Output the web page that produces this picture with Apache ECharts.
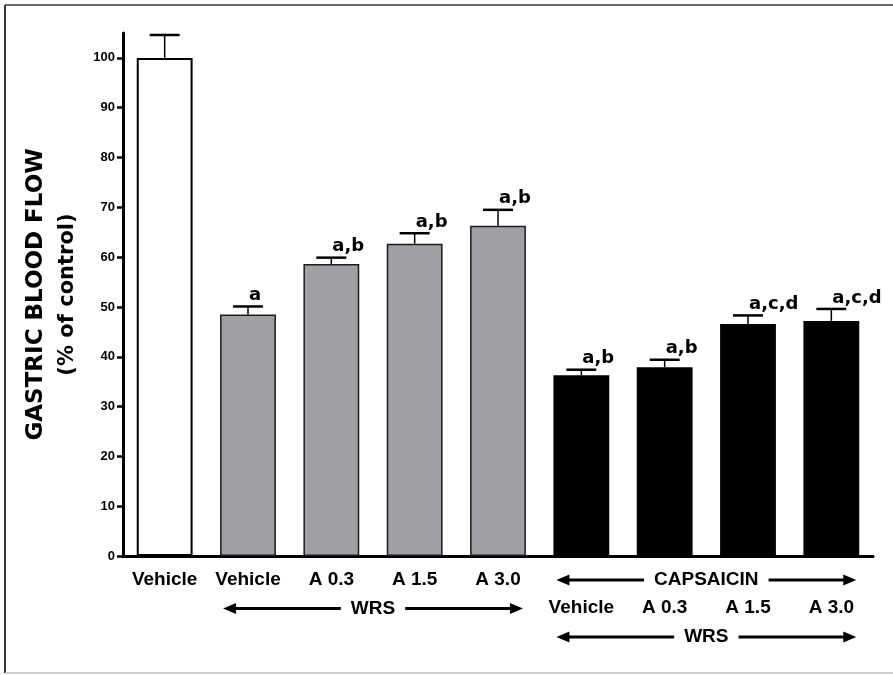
<!DOCTYPE html>
<html>
<head>
<meta charset="utf-8">
<title>Gastric blood flow</title>
<script src="https://cdn.jsdelivr.net/npm/echarts@6/dist/echarts.min.js"></script>
<style>
  html, body { margin: 0; padding: 0; background: #fff; }
  #chart { width: 893px; height: 675px; }
</style>
</head>
<body>
<div id="chart"></div>
<script>
// Treatment groups along the x axis
const categories = ['Vehicle', 'Vehicle', 'A 0.3', 'A 1.5', 'A 3.0', 'Vehicle', 'A 0.3', 'A 1.5', 'A 3.0'];
// Group of each bar: control, WRS alone, WRS after capsaicin
const groups = ['control', 'wrs', 'wrs', 'wrs', 'wrs', 'caps', 'caps', 'caps', 'caps'];
// Gastric blood flow, % of control (mean and SEM)
const means = [100, 48.5, 58.6, 62.7, 66.3, 36.3, 37.9, 46.6, 47.2];
const errors = [4.6, 1.6, 1.3, 2.1, 3.2, 1.1, 1.5, 1.7, 2.4];
// Significance letters over each bar
const sigLabels = ['', 'a', 'a,b', 'a,b', 'a,b', 'a,b', 'a,b', 'a,c,d', 'a,c,d'];
// Y axis tick values
const yTicks = [0, 10, 20, 30, 40, 50, 60, 70, 80, 90, 100];
// Bracketed annotations under the axis: text, first and last bar, row
const bracketText = ['WRS', 'CAPSAICIN', 'WRS'];
const bracketFrom = [1, 5, 5];
const bracketTo = [4, 8, 8];
const bracketRow = [1, 0, 2];

const groupStyle = {
  control: { color: '#ffffff', borderColor: '#000000', borderWidth: 2 },
  wrs: { color: '#a09fa5', borderColor: '#1a1a1a', borderWidth: 1.5 },
  caps: { color: '#000000', borderColor: '#000000', borderWidth: 0 }
};

const labelFont = 'Liberation Sans, Arial, sans-serif';
const letterFont = 'DejaVu Sans, sans-serif';

const chart = echarts.init(document.getElementById('chart'), null, { renderer: 'canvas' });

const option = {
  animation: false,
  backgroundColor: '#ffffff',
  grid: { left: 123, right: 20, top: 33, bottom: 119, containLabel: false },
  xAxis: {
    type: 'category',
    data: categories,
    axisLine: { show: true, lineStyle: { color: '#000', width: 3 } },
    axisTick: { show: false },
    axisLabel: {
      interval: 0,
      margin: 10,
      color: '#000',
      fontFamily: labelFont,
      fontWeight: 'bold',
      fontSize: 19,
      lineHeight: 28,
      formatter: function (value, index) {
        return groups[index] === 'caps' ? '\n' + categories[index] : categories[index];
      }
    },
    splitLine: { show: false }
  },
  yAxis: {
    type: 'value',
    min: 0,
    max: 105,
    axisLine: { show: true, lineStyle: { color: '#000', width: 3 } },
    axisTick: { show: true, length: 6, lineStyle: { color: '#000', width: 2.5 }, customValues: yTicks },
    axisLabel: {
      margin: 8,
      color: '#000',
      fontFamily: labelFont,
      fontWeight: 'bold',
      fontSize: 13,
      customValues: yTicks
    },
    splitLine: { show: false },
    name: '{t|GASTRIC BLOOD FLOW}\n{s|(% of control)}',
    nameLocation: 'middle',
    nameRotate: 90,
    nameGap: 40,
    nameTextStyle: {
      color: '#000',
      rich: {
        t: { fontFamily: letterFont, fontWeight: 'bold', fontSize: 23, lineHeight: 31, color: '#000' },
        s: { fontFamily: letterFont, fontWeight: 'bold', fontSize: 21, lineHeight: 31, color: '#000' }
      }
    }
  },
  series: [
    {
      type: 'bar',
      barWidth: '67%',
      data: means.map(function (v, i) {
        return { value: v, itemStyle: groupStyle[groups[i]] };
      }),
      z: 2
    },
    {
      type: 'custom',
      z: 3,
      data: means.map(function (v, i) { return [i, v, errors[i]]; }),
      encode: { x: 0, y: 1 },
      renderItem: function (params, api) {
        const i = api.value(0);
        const m = api.value(1);
        const e = api.value(2);
        const top = api.coord([i, m]);
        const cap = api.coord([i, m + e]);
        const half = 15;
        return {
          type: 'group',
          children: [
            { type: 'line', shape: { x1: top[0], y1: top[1], x2: cap[0], y2: cap[1] },
              style: { stroke: '#000', lineWidth: 1.5 } },
            { type: 'line', shape: { x1: cap[0] - half, y1: cap[1], x2: cap[0] + half, y2: cap[1] },
              style: { stroke: '#000', lineWidth: 2.5 } },
            { type: 'text', x: cap[0] + 1, y: cap[1] - 2,
              style: { text: sigLabels[params.dataIndex], align: 'left', verticalAlign: 'bottom',
                       font: 'bold 18px ' + letterFont, fill: '#000' } }
          ]
        };
      }
    }
  ]
};

chart.setOption(option);

// Arrows and group names below the category labels
function drawBrackets() {
  const ctx = document.createElement('canvas').getContext('2d');
  const bracketFontSize = 19;
  ctx.font = 'bold ' + bracketFontSize + 'px ' + labelFont;
  const p0 = chart.convertToPixel({ xAxisIndex: 0, yAxisIndex: 0 }, [0, 0]);
  const p1 = chart.convertToPixel({ xAxisIndex: 0, yAxisIndex: 0 }, [1, 0]);
  const band = p1[0] - p0[0];
  const barHalf = band * 0.67 / 2;
  const elements = [];
  const headLen = 13, headHalf = 5.5, gap = 10;

  for (let k = 0; k < bracketText.length; k++) {
    const a = chart.convertToPixel({ xAxisIndex: 0, yAxisIndex: 0 }, [bracketFrom[k], 0]);
    const b = chart.convertToPixel({ xAxisIndex: 0, yAxisIndex: 0 }, [bracketTo[k], 0]);
    const y = p0[1] + 24 + bracketRow[k] * 28.5;
    const xL = a[0] - barHalf + 3;
    const xR = b[0] + barHalf - 3;
    const cx = (a[0] + b[0]) / 2;
    const tw = ctx.measureText(bracketText[k]).width;
    const tL = cx - tw / 2 - gap;
    const tR = cx + tw / 2 + gap;
    elements.push(
      { type: 'line', shape: { x1: xL + headLen - 1, y1: y, x2: tL, y2: y }, style: { stroke: '#000', lineWidth: 3 } },
      { type: 'polygon', shape: { points: [[xL, y], [xL + headLen, y - headHalf], [xL + headLen, y + headHalf]] }, style: { fill: '#000' } },
      { type: 'line', shape: { x1: tR, y1: y, x2: xR - headLen + 1, y2: y }, style: { stroke: '#000', lineWidth: 3 } },
      { type: 'polygon', shape: { points: [[xR, y], [xR - headLen, y - headHalf], [xR - headLen, y + headHalf]] }, style: { fill: '#000' } },
      { type: 'text', x: cx, y: y,
        style: { text: bracketText[k], align: 'center', verticalAlign: 'middle',
                 font: 'bold ' + bracketFontSize + 'px ' + labelFont, fill: '#000' } }
    );
  }

  // Frame around the figure
  elements.push(
    { type: 'line', shape: { x1: 5, y1: 5, x2: 893, y2: 5 }, style: { stroke: '#333', lineWidth: 1.5 } },
    { type: 'line', shape: { x1: 5, y1: 5, x2: 5, y2: 673 }, style: { stroke: '#333', lineWidth: 2 } },
    { type: 'line', shape: { x1: 5, y1: 673, x2: 893, y2: 673 }, style: { stroke: '#bdbdbd', lineWidth: 1.5 } }
  );

  chart.setOption({ graphic: { elements: elements } });
}

drawBrackets();
</script>
</body>
</html>
